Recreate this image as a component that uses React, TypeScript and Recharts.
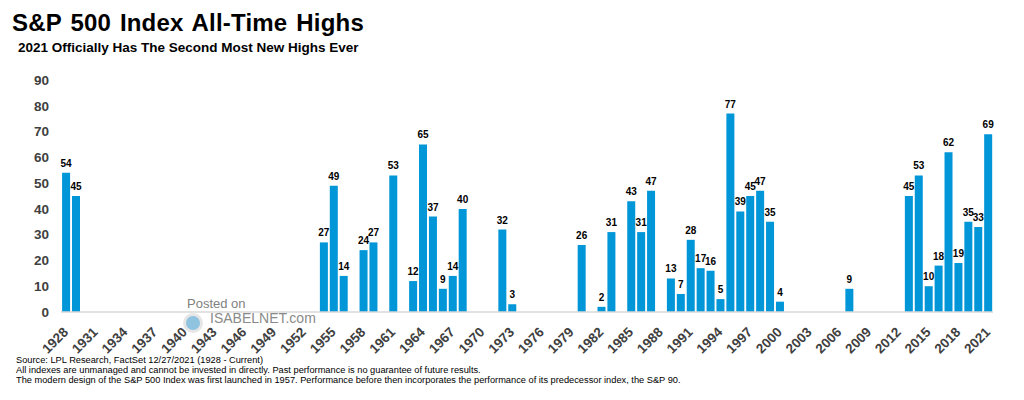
import { BarChart, Bar, XAxis, YAxis, LabelList } from 'recharts';

const years = [
  '1928', '1929', '1930', '1931', '1932', '1933', '1934', '1935', '1936', '1937',
  '1938', '1939', '1940', '1941', '1942', '1943', '1944', '1945', '1946', '1947',
  '1948', '1949', '1950', '1951', '1952', '1953', '1954', '1955', '1956', '1957',
  '1958', '1959', '1960', '1961', '1962', '1963', '1964', '1965', '1966', '1967',
  '1968', '1969', '1970', '1971', '1972', '1973', '1974', '1975', '1976', '1977',
  '1978', '1979', '1980', '1981', '1982', '1983', '1984', '1985', '1986', '1987',
  '1988', '1989', '1990', '1991', '1992', '1993', '1994', '1995', '1996', '1997',
  '1998', '1999', '2000', '2001', '2002', '2003', '2004', '2005', '2006', '2007',
  '2008', '2009', '2010', '2011', '2012', '2013', '2014', '2015', '2016', '2017',
  '2018', '2019', '2020', '2021',
];

// number of new all-time highs per year
const highs = [
  54, 45, 0, 0, 0, 0, 0, 0, 0, 0,
  0, 0, 0, 0, 0, 0, 0, 0, 0, 0,
  0, 0, 0, 0, 0, 0, 27, 49, 14, 0,
  24, 27, 0, 53, 0, 12, 65, 37, 9, 14,
  40, 0, 0, 0, 32, 3, 0, 0, 0, 0,
  0, 0, 26, 0, 2, 31, 0, 43, 31, 47,
  0, 13, 7, 28, 17, 16, 5, 77, 39, 45,
  47, 35, 4, 0, 0, 0, 0, 0, 0, 9,
  0, 0, 0, 0, 0, 45, 53, 10, 18, 62,
  19, 35, 33, 69,
];

const yTicks = [0, 10, 20, 30, 40, 50, 60, 70, 80, 90];

const footnotes = [
  'Source: LPL Research, FactSet 12/27/2021 (1928 - Current)',
  'All indexes are unmanaged and cannot be invested in directly. Past performance is no guarantee of future results.',
  'The modern design of the S&P 500 Index was first launched in 1957. Performance before then incorporates the performance of its predecessor index, the S&P 90.',
];

const data = years.map((year, i) => ({ year, highs: highs[i] }));

const font = '"Liberation Sans", Arial, sans-serif';

const YearTick = ({ x, y, payload }: any) => {
  const tx = x + 3;
  const ty = y + 21;
  return (
    <text
      x={tx}
      y={ty}
      textAnchor="end"
      transform={`rotate(-45, ${tx}, ${ty})`}
      fill="#404040"
      fontSize={13.5}
      fontWeight="bold"
      fontFamily={font}
    >
      {payload.value}
    </text>
  );
};

export default function App() {
  return (
    <div style={{ position: 'absolute', left: 0, top: 0, width: 1024, height: 400, background: '#fff', fontFamily: font }}>
      <div style={{ position: 'absolute', left: 12, top: 11, fontSize: 24, lineHeight: '24px', fontWeight: 'bold', letterSpacing: 0.2, wordSpacing: 2, color: '#000', whiteSpace: 'nowrap' }}>
        S&amp;P 500 Index All-Time Highs
      </div>
      <div style={{ position: 'absolute', left: 18, top: 41, fontSize: 13.5, lineHeight: '13px', fontWeight: 'bold', color: '#000', whiteSpace: 'nowrap' }}>
        2021 Officially Has The Second Most New Highs Ever
      </div>

      <BarChart
        width={1024}
        height={400}
        data={data}
        margin={{ top: 80, right: 31, bottom: 38, left: 0 }}
        barCategoryGap="11%"
      >
        <XAxis
          dataKey="year"
          interval={2}
          tickLine={false}
          tickSize={0}
          tickMargin={0}
          height={50}
          axisLine={{ stroke: '#d9d9d9', strokeWidth: 1.5 }}
          tick={<YearTick />}
        />
        <YAxis
          domain={[0, 90]}
          ticks={yTicks}
          width={61}
          axisLine={false}
          tickLine={false}
          tickSize={0}
          tickMargin={12}
          tick={{ fill: '#404040', fontSize: 13.5, fontWeight: 'bold', fontFamily: font }}
        />
        <Bar dataKey="highs" fill="#0096d8" isAnimationActive={false}>
          <LabelList
            dataKey="highs"
            position="top"
            offset={6}
            formatter={(v: any) => (v ? v : '')}
            fill="#000"
            fontSize={10}
            fontWeight="bold"
            fontFamily={font}
          />
        </Bar>
      </BarChart>

      <div style={{ position: 'absolute', left: 187, top: 297, fontSize: 13, lineHeight: '13px', color: '#7f7f7f', whiteSpace: 'nowrap' }}>
        Posted on
      </div>
      <svg style={{ position: 'absolute', left: 181, top: 312 }} width={24} height={22}>
        <circle cx={12} cy={11} r={10} fill="#e6e6e6" />
        <circle cx={12} cy={11} r={7} fill="#8fc3e0" />
      </svg>
      <div style={{ position: 'absolute', left: 210, top: 311, fontSize: 14, lineHeight: '14px', color: '#8a8a8a', whiteSpace: 'nowrap' }}>
        ISABELNET.com
      </div>

      <div style={{ position: 'absolute', left: 16, top: 355, fontSize: 9.25, lineHeight: '10px', color: '#000', whiteSpace: 'nowrap' }}>
        {footnotes.map((line) => (
          <div key={line}>{line}</div>
        ))}
      </div>
    </div>
  );
}
